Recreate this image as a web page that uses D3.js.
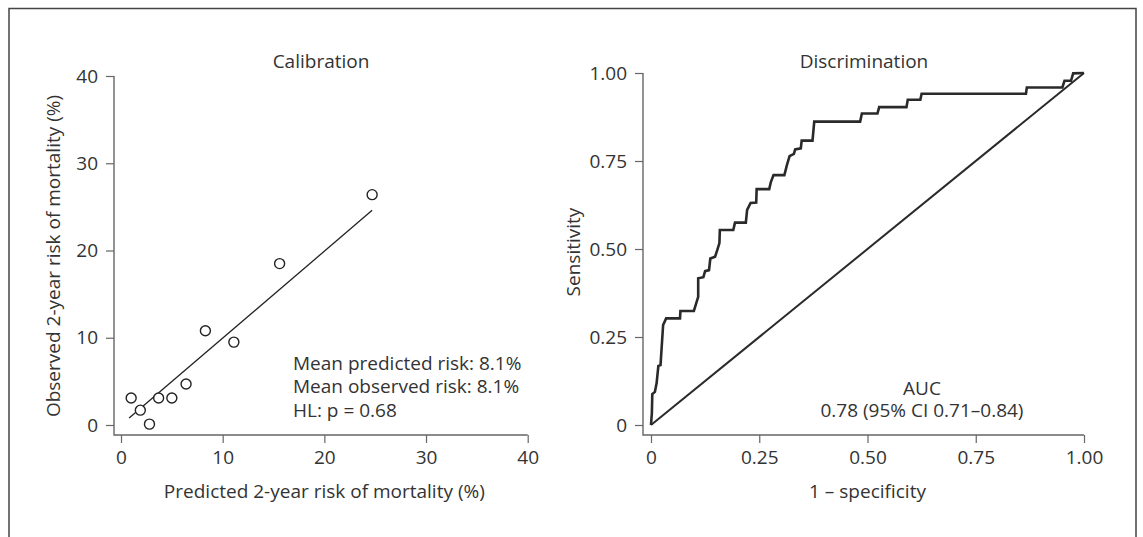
<!DOCTYPE html>
<html>
<head>
<meta charset="utf-8">
<script src="https://cdn.jsdelivr.net/npm/d3@7"></script>
<style>
  html, body { margin: 0; padding: 0; background: #fff; }
  svg { display: block; font-family: "Open Sans", "Noto Sans", sans-serif; }
</style>
</head>
<body>
<svg id="chart" width="1143" height="537"></svg>
<script>
// Calibration: deciles of predicted vs observed 2-year mortality (%)
const calibPred = [1.0, 1.9, 2.8, 3.7, 5.0, 6.4, 8.3, 11.1, 15.6, 24.7];
const calibObs  = [3.1, 1.7, 0.1, 3.1, 3.1, 4.7, 10.8, 9.5, 18.5, 26.4];
const fitPred = [0.8, 24.7];
const fitObs  = [0.8, 24.6];
const calibTicks = [0, 10, 20, 30, 40];
const calibNotes = ['Mean predicted risk: 8.1%', 'Mean observed risk: 8.1%', 'HL: p = 0.68'];

// Discrimination: ROC curve vertices
const rocFpr = [0, 0.002, 0.003, 0.009, 0.013, 0.017, 0.022, 0.028, 0.035, 0.067,
  0.068, 0.099, 0.104, 0.109, 0.109, 0.121, 0.125, 0.134, 0.137, 0.148,
  0.153, 0.158, 0.159, 0.190, 0.194, 0.219, 0.222, 0.230, 0.243, 0.244,
  0.273, 0.277, 0.283, 0.308, 0.314, 0.320, 0.330, 0.333, 0.346, 0.348,
  0.373, 0.377, 0.483, 0.487, 0.523, 0.527, 0.590, 0.593, 0.622, 0.625,
  0.866, 0.868, 0.950, 0.955, 0.970, 0.975, 1.0];
const rocTpr = [0, 0.034, 0.088, 0.094, 0.119, 0.168, 0.170, 0.284, 0.303, 0.303,
  0.324, 0.324, 0.344, 0.364, 0.417, 0.420, 0.437, 0.440, 0.473, 0.478,
  0.497, 0.517, 0.554, 0.554, 0.575, 0.575, 0.611, 0.631, 0.632, 0.670,
  0.670, 0.691, 0.710, 0.710, 0.739, 0.764, 0.770, 0.783, 0.786, 0.808,
  0.808, 0.862, 0.862, 0.885, 0.885, 0.903, 0.903, 0.924, 0.924, 0.941,
  0.941, 0.959, 0.959, 0.978, 0.978, 0.999, 1.0];
const rocTicks = [0, 0.25, 0.5, 0.75, 1];
const rocTickLabels = ['0', '0.25', '0.50', '0.75', '1.00'];
const aucNotes = ['AUC', '0.78 (95% CI 0.71\u20130.84)'];

const TEXT = '#333';
const AXIS = '#666';
const FS = 19;

const svg = d3.select('#chart');

// outer frame (top, left, right)
svg.append('path')
  .attr('d', 'M9,537 V8.5 H1136 V537')
  .attr('fill', 'none').attr('stroke', '#444').attr('stroke-width', 1.5);

// draws one L-shaped panel: axes, ticks and labels
function panel(opts) {
  const { x, y, ticks, labels, corner, title, titleX, xTitle, yTitle, yTitleX, yTitleY } = opts;
  const g = svg.append('g');

  const xAxis = d3.axisBottom(x).tickValues(ticks).tickSize(8).tickPadding(8)
    .tickFormat((d, i) => labels[i]);
  const yAxis = d3.axisLeft(y).tickValues(ticks).tickSize(8).tickPadding(8)
    .tickFormat((d, i) => labels[i]);

  const gx = g.append('g').attr('transform', `translate(0,${corner[1]})`).call(xAxis);
  const gy = g.append('g').attr('transform', `translate(${corner[0]},0)`).call(yAxis);
  [gx, gy].forEach(a => {
    a.select('.domain').remove();
    a.selectAll('line').attr('stroke', AXIS).attr('stroke-width', 1.2);
    a.selectAll('text').attr('fill', TEXT).attr('font-size', FS)
      .attr('font-family', '"Open Sans", sans-serif');
  });

  // L frame
  g.append('path')
    .attr('d', `M${corner[0]},${y(ticks[ticks.length - 1])} V${corner[1]} H${x(ticks[ticks.length - 1])}`)
    .attr('fill', 'none').attr('stroke', AXIS).attr('stroke-width', 1.4);

  const cx = (x.range()[0] + x.range()[1]) / 2;
  g.append('text').attr('x', titleX).attr('y', 68)
    .attr('text-anchor', 'middle').attr('fill', TEXT).attr('font-size', FS).text(title);
  g.append('text').attr('x', cx).attr('y', 498)
    .attr('text-anchor', 'middle').attr('fill', TEXT).attr('font-size', FS).text(xTitle);
  g.append('text')
    .attr('transform', `translate(${yTitleX},${yTitleY}) rotate(-90)`)
    .attr('text-anchor', 'middle').attr('fill', TEXT).attr('font-size', FS).text(yTitle);
  return g;
}

// ---- Calibration ----
const cxS = d3.scaleLinear().domain([0, 40]).range([121, 527.7]);
const cyS = d3.scaleLinear().domain([0, 40]).range([425, 76]);
const gc = panel({
  x: cxS, y: cyS, ticks: calibTicks, labels: calibTicks.map(String),
  corner: [114, 435], title: 'Calibration', titleX: 321,
  xTitle: 'Predicted 2-year risk of mortality (%)',
  yTitle: 'Observed 2-year risk of mortality (%)', yTitleX: 60, yTitleY: 256
});

gc.append('path')
  .datum(fitPred.map((p, i) => [p, fitObs[i]]))
  .attr('d', d3.line().x(d => cxS(d[0])).y(d => cyS(d[1])))
  .attr('fill', 'none').attr('stroke', '#222').attr('stroke-width', 1.3);

gc.selectAll('circle.pt')
  .data(calibPred.map((p, i) => [p, calibObs[i]]))
  .join('circle').attr('class', 'pt')
  .attr('cx', d => cxS(d[0])).attr('cy', d => cyS(d[1])).attr('r', 5)
  .attr('fill', '#fff').attr('stroke', '#222').attr('stroke-width', 1.4);

gc.append('text').attr('x', 293).attr('y', 370)
  .attr('fill', TEXT).attr('font-size', FS)
  .selectAll('tspan').data(calibNotes).join('tspan')
  .attr('x', 293).attr('dy', (d, i) => i === 0 ? 0 : 23.3).text(d => d);

// ---- Discrimination ----
const rxS = d3.scaleLinear().domain([0, 1]).range([651, 1084]);
const ryS = d3.scaleLinear().domain([0, 1]).range([425, 73]);
const gr = panel({
  x: rxS, y: ryS, ticks: rocTicks, labels: rocTickLabels,
  corner: [643, 435], title: 'Discrimination', titleX: 864,
  xTitle: '1 \u2013 specificity', yTitle: 'Sensitivity', yTitleX: 580, yTitleY: 252
});

gr.append('path')
  .datum([[0, 0], [1, 1]])
  .attr('d', d3.line().x(d => rxS(d[0])).y(d => ryS(d[1])))
  .attr('fill', 'none').attr('stroke', '#2a2a2a').attr('stroke-width', 2);

gr.append('path')
  .datum(rocFpr.map((f, i) => [f, rocTpr[i]]))
  .attr('d', d3.line().x(d => rxS(d[0])).y(d => ryS(d[1])))
  .attr('fill', 'none').attr('stroke', '#2a2a2a').attr('stroke-width', 2.6)
  .attr('stroke-linejoin', 'miter');

gr.append('text').attr('x', 922).attr('y', 395)
  .attr('text-anchor', 'middle').attr('fill', TEXT).attr('font-size', FS)
  .selectAll('tspan').data(aucNotes).join('tspan')
  .attr('x', 922).attr('dy', (d, i) => i === 0 ? 0 : 22).text(d => d);
</script>
</body>
</html>
